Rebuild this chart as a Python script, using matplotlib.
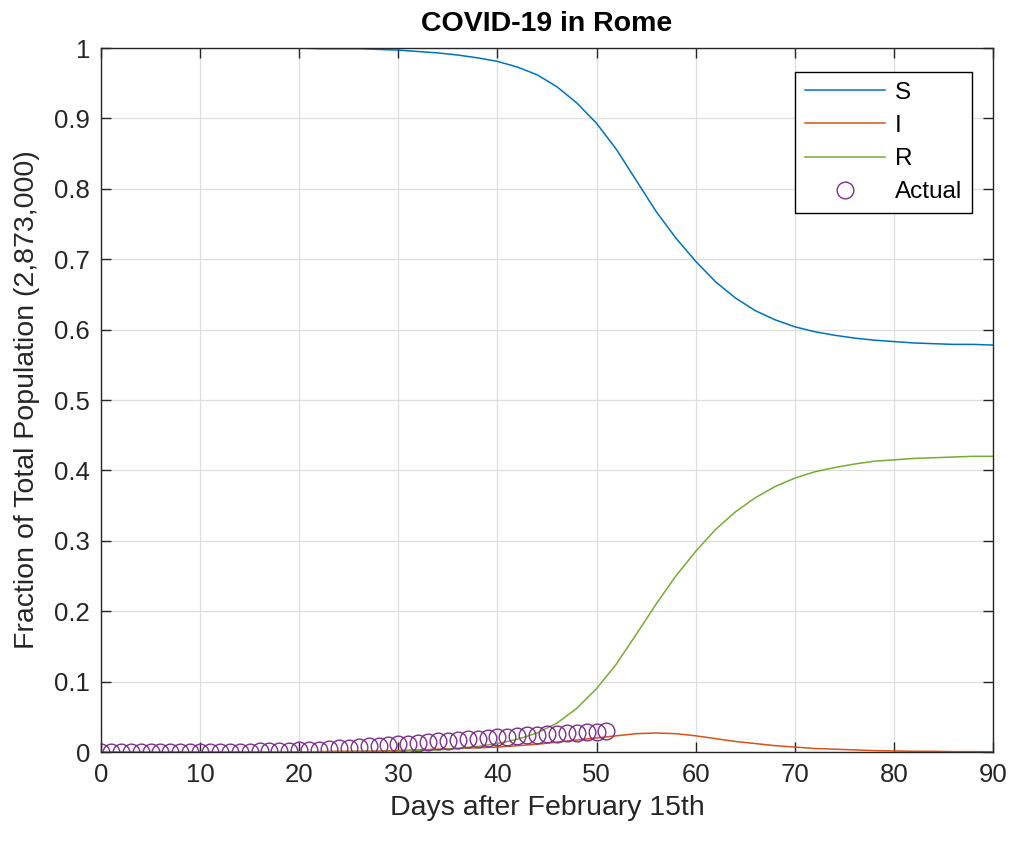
import matplotlib
matplotlib.use('Agg')
import matplotlib.pyplot as plt
import numpy as np

plt.rcParams['font.family'] = ['Liberation Sans', 'DejaVu Sans']

# model curves, read every 2 days
days = list(range(0, 91, 2))
S = [1.000, 1.000, 1.000, 1.000, 1.000, 1.000, 1.000, 1.000, 1.000, 1.000,
     1.000, 0.999, 0.999, 0.999, 0.998, 0.997, 0.995, 0.993, 0.990, 0.986,
     0.981, 0.973, 0.962, 0.945, 0.922, 0.893, 0.856, 0.812, 0.768, 0.730,
     0.697, 0.668, 0.645, 0.627, 0.614, 0.604, 0.597, 0.592, 0.588, 0.585,
     0.583, 0.581, 0.580, 0.579, 0.579, 0.578]
I = [0.000, 0.000, 0.000, 0.000, 0.000, 0.000, 0.000, 0.000, 0.000, 0.000,
     0.000, 0.0005, 0.001, 0.001, 0.0015, 0.002, 0.003, 0.004, 0.005, 0.006,
     0.007, 0.009, 0.011, 0.014, 0.017, 0.020, 0.023, 0.026, 0.027, 0.026,
     0.023, 0.019, 0.015, 0.012, 0.009, 0.007, 0.005, 0.004, 0.003, 0.002,
     0.0015, 0.001, 0.001, 0.0005, 0.0005, 0.0003]
R = [0.000, 0.000, 0.000, 0.000, 0.000, 0.000, 0.000, 0.000, 0.000, 0.000,
     0.000, 0.0005, 0.0005, 0.001, 0.001, 0.001, 0.002, 0.003, 0.005, 0.008,
     0.012, 0.018, 0.027, 0.041, 0.062, 0.090, 0.125, 0.167, 0.210, 0.250,
     0.285, 0.316, 0.341, 0.361, 0.377, 0.389, 0.398, 0.404, 0.409, 0.413,
     0.415, 0.417, 0.418, 0.419, 0.420, 0.420]

# reported cases as fraction, days 0..51
actual_days = list(range(0, 52))
actual = [0.000, 0.000, 0.000, 0.000, 0.000, 0.000, 0.000, 0.000, 0.000, 0.000,
          0.000, 0.000, 0.000, 0.000, 0.000, 0.0005, 0.001, 0.001, 0.0015, 0.002,
          0.0025, 0.003, 0.0035, 0.004, 0.005, 0.006, 0.007, 0.008, 0.009, 0.010,
          0.011, 0.012, 0.013, 0.014, 0.015, 0.016, 0.017, 0.018, 0.019, 0.020,
          0.021, 0.022, 0.023, 0.024, 0.0245, 0.025, 0.026, 0.027, 0.0275, 0.028,
          0.029, 0.030]

fig = plt.figure(figsize=(10.13, 8.42), dpi=100)
ax = fig.add_axes([101/1013, 1 - 752/842, 892/1013, 704/842])

ax.plot(days, S, color='#0072BD', lw=1.1, label='S')
ax.plot(days, I, color='#D95319', lw=1.1, label='I')
ax.plot(days, R, color='#77AC30', lw=1.1, label='R')
ax.plot(actual_days, actual, 'o', mfc='none', mec='#7E2F8E', ms=12, mew=1.0,
        label='Actual')

ax.set_xlim(0, 90)
ax.set_ylim(0, 1)
ax.set_xticks(range(0, 91, 10))
ax.set_yticks(np.arange(0, 1.01, 0.1))
ax.set_yticklabels(['0', '0.1', '0.2', '0.3', '0.4', '0.5', '0.6', '0.7', '0.8', '0.9', '1'])
ax.grid(True, color='#dedede', lw=0.9)
ax.set_axisbelow(True)
ax.tick_params(direction='in', length=7, width=1, top=True, right=True,
               labelsize=18.5, colors='#262626', pad=8)
for sp in ax.spines.values():
    sp.set_color('#262626')
    sp.set_linewidth(1.0)

ax.set_xlabel('Days after February 15th', fontsize=20.5, color='#262626', labelpad=6)
ax.set_ylabel('Fraction of Total Population (2,873,000)', fontsize=20.5,
              color='#262626', labelpad=10)
ax.set_title('COVID-19 in Rome', fontsize=20.5, fontweight='bold', pad=12)

leg = ax.legend(loc='upper right', bbox_to_anchor=(0.9765, 0.966), fontsize=17.5,
                frameon=True, fancybox=False, edgecolor='black', framealpha=1,
                handlelength=3.3, handletextpad=0.4, labelspacing=0.46,
                borderpad=0.4, borderaxespad=0)
leg.get_frame().set_linewidth(1.0)

fig.savefig('out.png', dpi=100)
